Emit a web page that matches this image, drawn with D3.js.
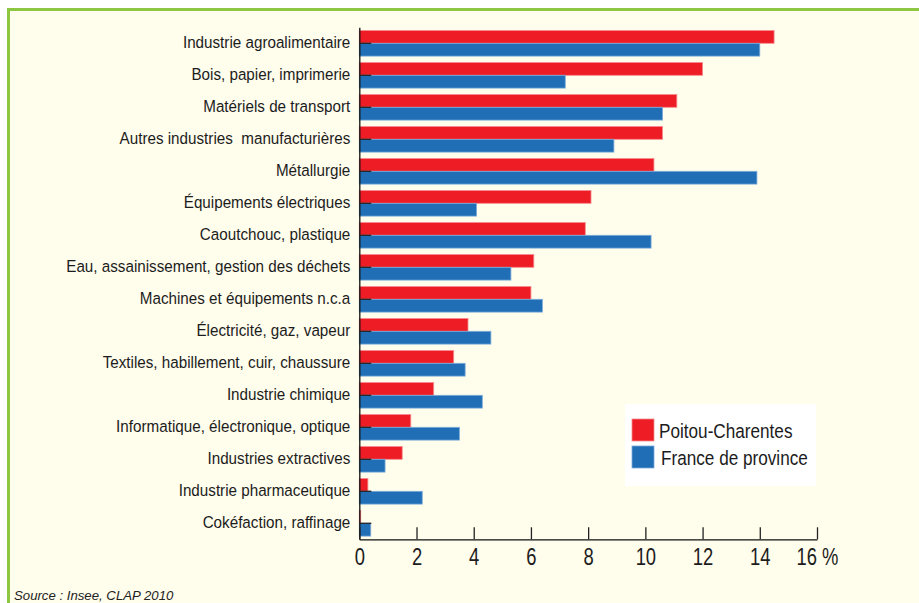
<!DOCTYPE html>
<html><head><meta charset="utf-8">
<script src="https://cdn.jsdelivr.net/npm/d3@7"></script>
<style>
html,body{margin:0;padding:0;background:#fff;}
svg{display:block;font-family:"Liberation Sans",Arial,sans-serif;}
</style></head>
<body>
<svg id="c" width="919" height="603"></svg>
<script>
const categories = [
  "Industrie agroalimentaire",
  "Bois, papier, imprimerie",
  "Matériels de transport",
  "Autres industries  manufacturières",
  "Métallurgie",
  "Équipements électriques",
  "Caoutchouc, plastique",
  "Eau, assainissement, gestion des déchets",
  "Machines et équipements n.c.a",
  "Électricité, gaz, vapeur",
  "Textiles, habillement, cuir, chaussure",
  "Industrie chimique",
  "Informatique, électronique, optique",
  "Industries extractives",
  "Industrie pharmaceutique",
  "Cokéfaction, raffinage"
];
const poitou = [14.5, 12.0, 11.1, 10.6, 10.3, 8.1, 7.9, 6.1, 6.0, 3.8, 3.3, 2.6, 1.8, 1.5, 0.3, 0.05];
const france = [14.0, 7.2, 10.6, 8.9, 13.9, 4.1, 10.2, 5.3, 6.4, 4.6, 3.7, 4.3, 3.5, 0.9, 2.2, 0.4];
const xTicks = [0, 2, 4, 6, 8, 10, 12, 14, 16];
const seriesNames = ["Poitou-Charentes", "France de province"];
const sourceText = "Source : Insee, CLAP 2010";

const svg = d3.select("#c");
// frame
svg.append("rect").attr("x", 8.5).attr("y", 9.5).attr("width", 960).attr("height", 640)
  .attr("fill", "#FFFDEC").attr("stroke", "#8DC640").attr("stroke-width", 3);

const x = d3.scaleLinear().domain([0, 16]).range([359.3, 817]);
const y = d3.scaleBand().domain(categories).range([27.3, 539.3]).paddingInner(0.2).paddingOuter(0.1);
const bh = y.bandwidth() / 2;

const g = svg.append("g");
g.selectAll("rect.p").data(categories).join("rect").attr("class", "p")
  .attr("x", x(0)).attr("y", d => y(d))
  .attr("width", (d, i) => x(poitou[i]) - x(0)).attr("height", bh)
  .attr("fill", "#EE1D25").attr("stroke", "#F58A8D").attr("stroke-width", 0.8);
g.selectAll("rect.f").data(categories).join("rect").attr("class", "f")
  .attr("x", x(0)).attr("y", d => y(d) + bh)
  .attr("width", (d, i) => x(france[i]) - x(0)).attr("height", bh)
  .attr("fill", "#1F6EB6").attr("stroke", "#7DABD9").attr("stroke-width", 0.8);

// y axis
const ls = 0.895;
const ya = svg.append("g").attr("transform", `translate(${x(0)},0)`)
  .call(d3.axisLeft(y).tickSize(-12).tickPadding(9).tickSizeOuter(0));
ya.select(".domain").attr("stroke", "#111").attr("stroke-width", 1.3);
ya.selectAll(".tick line").attr("stroke", "#222").attr("stroke-width", 1.3);
ya.selectAll(".tick text").attr("font-size", 17).attr("fill", "#1c1c1c")
  .attr("font-family", "Liberation Sans, Arial, sans-serif")
  .style("white-space", "pre")
  .attr("transform", `scale(${ls},1)`)
  .attr("x", -9 / ls).attr("y", -0.5);

// x axis
const ts = 0.8;
const xa = svg.append("g").attr("transform", `translate(0,539.3)`)
  .call(d3.axisBottom(x).tickValues(xTicks).tickSize(-12).tickSizeOuter(0)
    .tickFormat(d => d === 16 ? "16 %" : String(d)));
xa.select(".domain").attr("stroke", "#111").attr("stroke-width", 1.3);
xa.selectAll(".tick line").attr("stroke", "#222").attr("stroke-width", 1.3);
xa.selectAll(".tick text").attr("font-size", 23).attr("fill", "#1c1c1c")
  .attr("y", 9).attr("dy", "0.71em")
  .attr("font-family", "Liberation Sans, Arial, sans-serif")
  .attr("text-anchor", "middle")
  .attr("transform", `scale(${ts},1)`);

// legend
const lg = svg.append("g");
lg.append("rect").attr("x", 625).attr("y", 404).attr("width", 191).attr("height", 82).attr("fill", "#FFFFFF");
const colors = ["#EE1D25", "#1F6EB6"], strokes = ["#F58A8D", "#7DABD9"];
seriesNames.forEach((s, i) => {
  lg.append("rect").attr("x", 632).attr("y", 419 + i * 27).attr("width", 22).attr("height", 22)
    .attr("fill", colors[i]).attr("stroke", strokes[i]).attr("stroke-width", 0.8);
  lg.append("text").attr("transform", `translate(${659 + i * 2},${431 + i * 27}) scale(0.88,1)`)
    .attr("dy", "0.35em")
    .attr("font-size", 19.5).attr("fill", "#1c1c1c").text(s);
});

svg.append("text").attr("x", 14).attr("y", 600).attr("font-size", 13.2).attr("font-style", "italic")
  .attr("fill", "#222").text(sourceText);
</script>
</body></html>
